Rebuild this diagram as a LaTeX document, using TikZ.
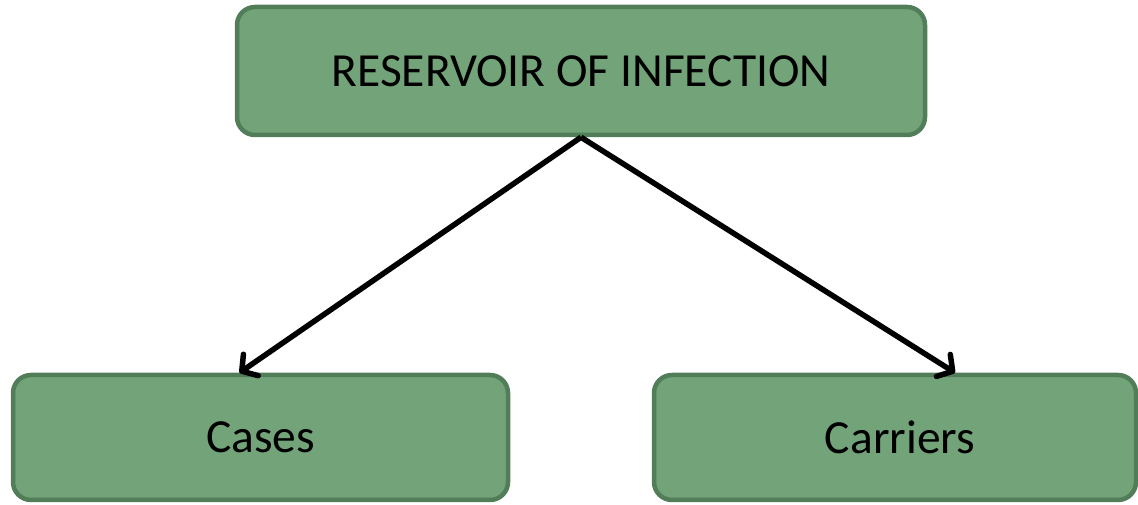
\documentclass[tikz,border=0pt]{standalone}
\usepackage{fontspec}
\setmainfont{Carlito}
\usetikzlibrary{arrows.meta}
\definecolor{boxfill}{RGB}{114,163,121}
\definecolor{boxline}{RGB}{82,125,89}
\tikzset{
  gbox/.style={draw=boxline, fill=boxfill, line width=4.5pt, rounded corners=18pt,
    inner sep=0pt, font=\fontsize{47.5}{54}\selectfont, text=black},
  link/.style={line width=5.5pt, black, -{Straight Barb[length=11pt,width=26pt,line cap=round,line join=round]}}
}
\begin{document}
\begin{tikzpicture}[x=1pt,y=1pt]
\useasboundingbox (0,0) rectangle (1138,505);
\node[gbox, minimum width=688pt, minimum height=128pt] (res) at (581,434) {RESERVOIR OF INFECTION};
\node[gbox, minimum width=495pt, minimum height=125pt] (cases) at (260.5,67.5) {Cases};
\node[gbox, minimum width=482pt, minimum height=125pt] (carr) at (895,67.5) {\hspace*{10pt}Carriers};
\draw[link] (res.south) -- ([xshift=-21pt]cases.north);
\draw[link] (res.south) -- ([xshift=60pt]carr.north);
\end{tikzpicture}
\end{document}
